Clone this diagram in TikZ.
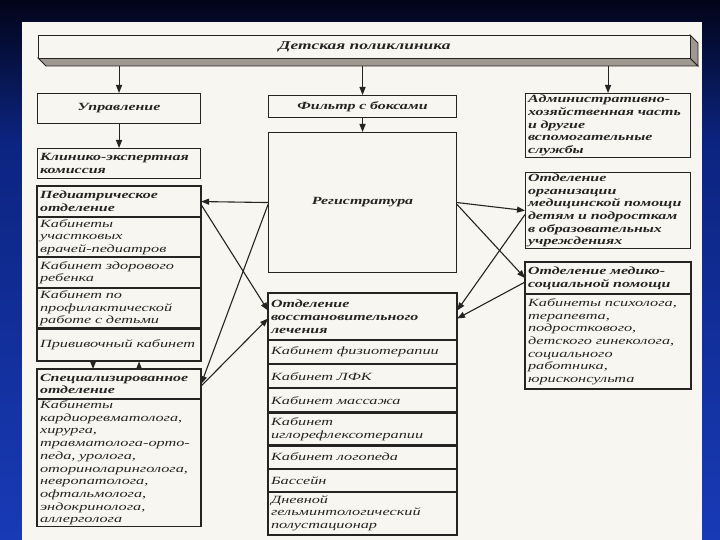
\documentclass[tikz,border=0pt]{standalone}
\usepackage{fontspec}
\setmainfont{Liberation Serif}[ItalicFeatures={FakeStretch=1.48},BoldItalicFeatures={FakeStretch=1.45}]
\usepackage{xcolor}
\usetikzlibrary{arrows.meta,positioning,calc}

\definecolor{ink}{RGB}{38,36,34}
\definecolor{paper}{RGB}{248,246,241}
\definecolor{slab}{RGB}{158,152,144}
\definecolor{bgtop}{RGB}{2,4,24}
\definecolor{bgmid}{RGB}{12,36,128}
\definecolor{bgbot}{RGB}{24,58,182}
\pgfdeclareverticalshading{slidebg}{100bp}{color(0bp)=(bgbot); color(25bp)=(bgbot); color(62bp)=(bgmid); color(75bp)=(bgtop); color(100bp)=(bgtop)}

\tikzset{
	unit/.style={draw=ink, line width=1.1pt, fill=paper, text=ink, inner xsep=2.5pt, inner ysep=1pt,
		anchor=north west, align=left, font=\fontsize{11}{12.7}\selectfont\itshape},
	head/.style={unit, font=\fontsize{11}{12.7}\selectfont\bfseries\itshape},
	lcol/.style={text width=158pt},
	mcol/.style={text width=183pt},
	rcol/.style={text width=160pt},
	link/.style={draw=ink, line width=1.1pt, -{Triangle[length=8pt,width=6pt]}},
}

\begin{document}
\begin{tikzpicture}[x=1pt,y=-1pt]
	\shade[shading=slidebg] (0,0) rectangle (720,540);
	\useasboundingbox (0,0) rectangle (720,540);
	\fill[paper] (22,22) rectangle (702,540);

	% slab with the title
	\filldraw[fill=slab, draw=ink, line width=0.8pt] (38,58) -- (690,58) -- (698,66) -- (46,66) -- cycle;
	\filldraw[fill=slab, draw=ink, line width=0.8pt] (690,35) -- (698,43) -- (698,66) -- (690,58) -- cycle;
	\node[unit, head, align=center, minimum width=652pt, minimum height=23pt, font=\fontsize{12}{14}\selectfont\bfseries\itshape] (clinic) at (38,35) {Детская поликлиника};
	\coordinate (slabbase) at (364,66);

	% left column
	\node[head, lcol, align=center, minimum height=30pt] (upr) at (37,93) {Управление};
	\node[head, lcol, minimum height=30pt] (kek) at (37,148) {Клинико-экспертная\\комиссия};
	\node[head, lcol, minimum height=30pt] (ped1) at (37,186) {Педиатрическое\\отделение};
	\node[unit, lcol, minimum height=39pt, below=0pt of ped1] (ped2) {Кабинеты\\участковых\\врачей-педиатров};
	\node[unit, lcol, minimum height=30pt, below=0pt of ped2] (ped3) {Кабинет здорового\\ребенка};
	\node[unit, lcol, minimum height=39pt, below=0pt of ped3] (ped4) {Кабинет по\\профилактической\\работе с детьми};
	\node[unit, lcol, minimum height=32pt, below=0pt of ped4] (ped5) {Прививочный кабинет};
	\node[head, lcol, minimum height=29pt] (spechead) at (37,369) {Специализированное\\отделение};
	\node[unit, lcol, minimum height=126pt, below=0pt of spechead] (specbody) {Кабинеты\\кардиоревматолога,\\хирурга,\\травматолога-орто-\\педа, уролога,\\оториноларинголога,\\невропатолога,\\офтальмолога,\\эндокринолога,\\аллерголога};
	\draw[ink, line width=1.5pt] (ped1.north west) rectangle (ped5.south east);
	\draw[ink, line width=1.5pt] (spechead.north west) rectangle (specbody.south east);

	% middle column
	\node[head, mcol, align=center, minimum height=22pt] (filter) at (268,95) {Фильтр с боксами};
	\node[head, mcol, align=center, minimum height=140pt] (reg) at (268,132) {Регистратура};
	\node[head, mcol, minimum height=46pt] (resthead) at (268,293) {Отделение\\восстановительного\\лечения};
	\node[unit, mcol, minimum height=23pt, below=0pt of resthead] (rest1) {Кабинет физиотерапии};
	\node[unit, mcol, minimum height=23pt, below=0pt of rest1] (rest2) {Кабинет ЛФК};
	\node[unit, mcol, minimum height=23pt, below=0pt of rest2] (rest3) {Кабинет массажа};
	\node[unit, mcol, minimum height=32pt, below=0pt of rest3] (rest4) {Кабинет\\иглорефлексотерапии};
	\node[unit, mcol, minimum height=22pt, below=0pt of rest4] (rest5) {Кабинет логопеда};
	\node[unit, mcol, minimum height=22pt, below=0pt of rest5] (rest6) {Бассейн};
	\node[unit, mcol, minimum height=42pt, below=0pt of rest6] (rest7) {Дневной\\гельминтологический\\полустационар};
	\draw[ink, line width=1.5pt] (resthead.north west) rectangle (rest7.south east);

	% right column
	\node[head, rcol, minimum height=64pt] (adm) at (525,93) {Административно-\\хозяйственная часть\\и другие\\вспомогательные\\службы};
	\node[head, rcol, minimum height=76pt] (org) at (525,172) {Отделение\\организации\\медицинской помощи\\детям и подросткам\\в образовательных\\учреждениях};
	\node[head, rcol, minimum height=31pt] (medhead) at (525,262) {Отделение медико-\\социальной помощи};
	\node[unit, rcol, minimum height=94pt, below=0pt of medhead] (medbody) {Кабинеты психолога,\\терапевта,\\подросткового,\\детского гинеколога,\\социального\\работника,\\юрисконсульта};
	\draw[ink, line width=1.5pt] (medhead.north west) rectangle (medbody.south east);

	% arrows
	\draw[link] (slabbase -| upr.north) -- (upr.north);
	\draw[link] (slabbase -| filter.north) -- (filter.north);
	\draw[link] (slabbase -| adm.north) -- (adm.north);
	\draw[link] (upr.south) -- (kek.north);
	\draw[link] (filter.south) -- (reg.north);
	\draw[link] ([xshift=-26pt]ped5.south) -- ([xshift=-26pt]spechead.north);
	\draw[link] ([xshift=20pt]spechead.north) -- ([xshift=20pt]ped5.south);

	\draw[link] (reg.west) -- (ped1.east);
	\draw[link] ([yshift=-2pt]reg.west) -- (spechead.east);
	\draw[link] ([yshift=-3pt]ped1.east) -- ([yshift=6pt]resthead.west);
	\draw[link] ([yshift=-2pt]spechead.east) -- ([yshift=-2pt]resthead.west);
	\draw[link] (reg.east) -- (org.west);
	\draw[link] ([yshift=-2pt]reg.east) -- (medhead.west);
	\draw[link] ([yshift=-4pt]org.west) -- ([yshift=6pt]resthead.east);
	\draw[link] ([yshift=-4pt]medhead.west) -- ([yshift=-2pt]resthead.east);
\end{tikzpicture}
\end{document}
